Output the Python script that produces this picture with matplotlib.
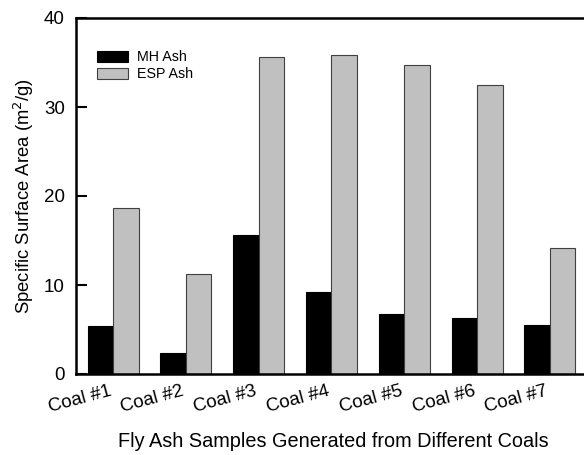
import matplotlib
matplotlib.use("Agg")
import matplotlib.pyplot as plt
import numpy as np

plt.rcParams['font.family'] = ['Liberation Sans', 'DejaVu Sans']

categories = ["Coal #1", "Coal #2", "Coal #3", "Coal #4", "Coal #5", "Coal #6", "Coal #7"]
mh_ash = [5.4, 2.4, 15.6, 9.2, 6.7, 6.3, 5.5]
esp_ash = [18.7, 11.2, 35.6, 35.8, 34.7, 32.5, 14.2]

fig = plt.figure(figsize=(5.84, 4.55), dpi=100)
ax = fig.add_axes([76/584, 1-374/455, 1-76/584+0.01, (374-18)/455])

x = np.arange(len(categories))
w = 0.35
ax.bar(x - w/2, mh_ash, w, color='black', edgecolor='black', linewidth=0.8, label='MH Ash')
ax.bar(x + w/2, esp_ash, w, color='#c0c0c0', edgecolor='#404040', linewidth=0.8, label='ESP Ash')

ax.set_xlim(-0.51, 6.55)
ax.set_ylim(0, 40)
ax.set_yticks([0, 10, 20, 30, 40])
ax.tick_params(axis='y', direction='in', length=8, width=1.5, labelsize=13.5, pad=8)
ax.set_xticks(x)
ax.set_xticklabels(categories, rotation=15, fontsize=13.5, ha='right')
ax.tick_params(axis='x', length=0, pad=6)
for s in ['left', 'bottom', 'top']:
    ax.spines[s].set_linewidth(1.8)
ax.spines['right'].set_visible(False)

ax.set_ylabel('Specific Surface Area (m$^2$/g)', fontsize=13.3, labelpad=6)
ax.set_xlabel('Fly Ash Samples Generated from Different Coals', fontsize=14.3, labelpad=12)

ax.legend(loc='upper left', bbox_to_anchor=(0.015, 0.945), frameon=False, fontsize=10.3,
          handlelength=2.2, handleheight=0.75, handletextpad=0.6, labelspacing=0.2)

fig.savefig('out.png', dpi=100)
